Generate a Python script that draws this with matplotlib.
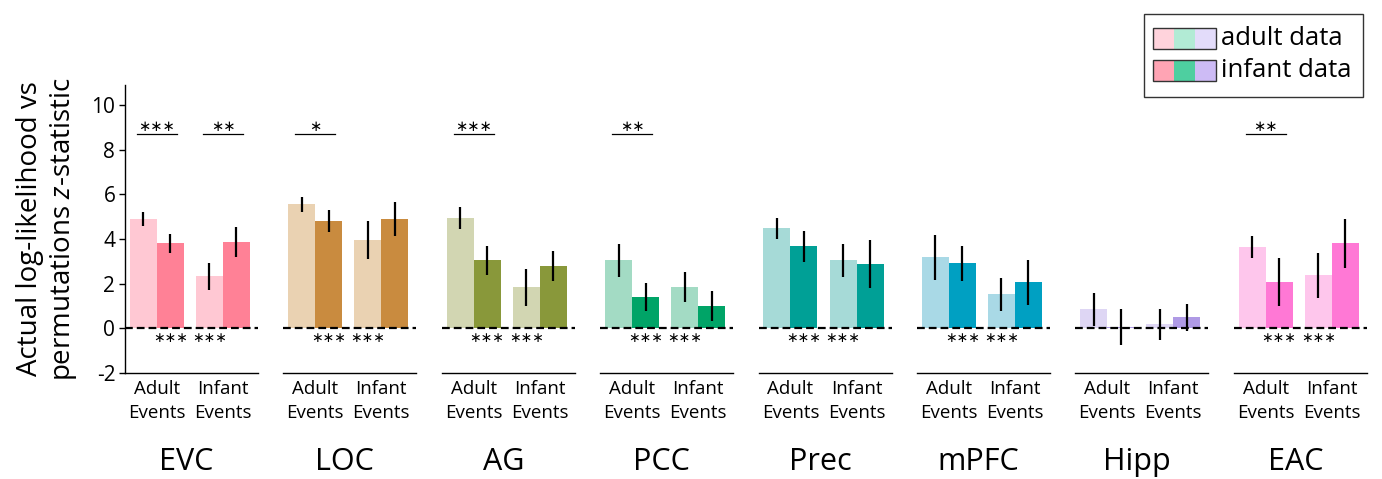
import matplotlib
matplotlib.use("Agg")
import matplotlib.pyplot as plt
from matplotlib.patches import Rectangle

plt.rcParams['font.family'] = ['Open Sans', 'DejaVu Sans']
plt.rcParams['axes.unicode_minus'] = False
plt.rcParams['mathtext.fontset'] = 'custom'
plt.rcParams['mathtext.rm'] = 'Open Sans'
plt.rcParams['mathtext.it'] = 'Open Sans:italic'

# regions of interest
regions = ['EVC', 'LOC', 'AG', 'PCC', 'Prec', 'mPFC', 'Hipp', 'EAC']

# z-statistics: (events model) x (data tested on)
adult_ev_adult_data = [4.89, 5.56, 4.93, 3.05, 4.48, 3.18, 0.85, 3.63]
adult_ev_infant_data = [3.81, 4.80, 3.05, 1.39, 3.68, 2.91, 0.05, 2.06]
infant_ev_adult_data = [2.33, 3.95, 1.84, 1.84, 3.05, 1.52, 0.18, 2.38]
infant_ev_infant_data = [3.86, 4.89, 2.78, 0.99, 2.87, 2.06, 0.49, 3.81]

err_ae_ad = [0.30, 0.33, 0.50, 0.73, 0.47, 1.00, 0.73, 0.50]
err_ae_id = [0.43, 0.50, 0.66, 0.63, 0.70, 0.80, 0.80, 1.07]
err_ie_ad = [0.60, 0.85, 0.84, 0.68, 0.74, 0.73, 0.70, 1.00]
err_ie_id = [0.67, 0.77, 0.67, 0.67, 1.08, 1.00, 0.60, 1.10]

# significance marks
sig_adult_events = ['***', '*', '***', '**', '', '', '', '**']
sig_infant_events = ['**', '', '', '', '', '', '', '']
sig_vs_zero = ['***', '***', '***', '***', '***', '***', '', '***']

light_colors = ['#FFC8D3', '#EAD2B2', '#D2D6B2', '#A3DBC4', '#A6DAD7', '#A9D9E6', '#DED6F4', '#FEC6EC']
dark_colors = ['#FF8196', '#C98B3F', '#89983A', '#00A467', '#00A096', '#00A0C2', '#AF9AE5', '#FF78D5']

legend_adult = ['#FFD3DC', '#B2EBD5', '#E3DCFA']
legend_infant = ['#FFA4B4', '#4ECFA0', '#CDBBF5']

W, H = 1382, 479
fig = plt.figure(figsize=(W / 100, H / 100), dpi=100)

xpos = [0, 1, 2.45, 3.45]
left0, step, width = 125 / W, 158.4 / W, 133 / W
bottom, height = 1 - 373 / H, (373 - 85) / H
star_font = ['DejaVu Sans']

for i, reg in enumerate(regions):
    ax = fig.add_axes([left0 + i * step, bottom, width, height])
    vals = [adult_ev_adult_data[i], adult_ev_infant_data[i],
            infant_ev_adult_data[i], infant_ev_infant_data[i]]
    errs = [err_ae_ad[i], err_ae_id[i], err_ie_ad[i], err_ie_id[i]]
    cols = [light_colors[i], dark_colors[i], light_colors[i], dark_colors[i]]
    ax.bar(xpos, vals, width=1.0, color=cols, zorder=1)
    ax.errorbar(xpos, vals, yerr=errs, fmt='none', ecolor='black', elinewidth=1.6, capsize=0, zorder=3)
    ax.axhline(0, color='black', lw=1.6, ls=(0, (3.5, 1.8)), zorder=2)

    ax.set_xlim(-0.68, 4.25)
    ax.set_ylim(-2, 10.9)

    # comparison brackets
    for cx, s in [(0.5, sig_adult_events[i]), (2.95, sig_infant_events[i])]:
        if s:
            ax.plot([cx - 0.74, cx + 0.74], [8.7, 8.7], color='black', lw=0.9)
            ax.text(cx, 9.05, '\u2217' * len(s), ha='center', va='center',
                    fontsize=10.5, family=star_font)
    if sig_vs_zero[i]:
        for cx in (xpos[1], xpos[2]):
            ax.text(cx, -0.42, '\u2217' * 3, ha='center', va='center',
                    fontsize=10, family=star_font)

    ax.set_xticks([0.5, 2.95])
    ax.set_xticklabels(['Adult\nEvents', 'Infant\nEvents'], fontsize=13.5)
    for lab in ax.get_xticklabels():
        lab.set_linespacing(1.45)
    ax.tick_params(axis='x', length=0, pad=5)
    for side in ['top', 'right']:
        ax.spines[side].set_visible(False)
    ax.spines['bottom'].set_linewidth(1.0)
    if i == 0:
        ax.set_yticks([-2, 0, 2, 4, 6, 8, 10])
        ax.tick_params(axis='y', labelsize=15, length=4, width=1.0, pad=3)
        ax.spines['left'].set_linewidth(1.0)
        ax.set_ylabel('Actual log-likelihood vs\npermutations $z$-statistic',
                      fontsize=20, labelpad=9, linespacing=1.2)
    else:
        ax.spines['left'].set_visible(False)
        ax.set_yticks([])
    ax.text(1.6, -0.31, reg, transform=ax.get_xaxis_transform(),
            ha='center', va='center', fontsize=22)

# legend box drawn in pixel coordinates
lax = fig.add_axes([0, 0, 1, 1], zorder=5)
lax.set_xlim(0, W)
lax.set_ylim(H, 0)
lax.axis('off')
lax.add_patch(Rectangle((1144, 14), 219, 83, fill=False, ec='#333333', lw=1.0))
for row, (cols, lab) in enumerate([(legend_adult, 'adult data'), (legend_infant, 'infant data')]):
    y0 = 28 + row * 32
    for k, c in enumerate(cols):
        lax.add_patch(Rectangle((1153 + k * 21, y0), 21, 21, fc=c, ec='none'))
    lax.add_patch(Rectangle((1153, y0), 63, 21, fill=False, ec='#333333', lw=1.0))
    lax.text(1221, y0 + 10.5, lab, ha='left', va='center', fontsize=18.5)

fig.savefig('out.png', dpi=100)
